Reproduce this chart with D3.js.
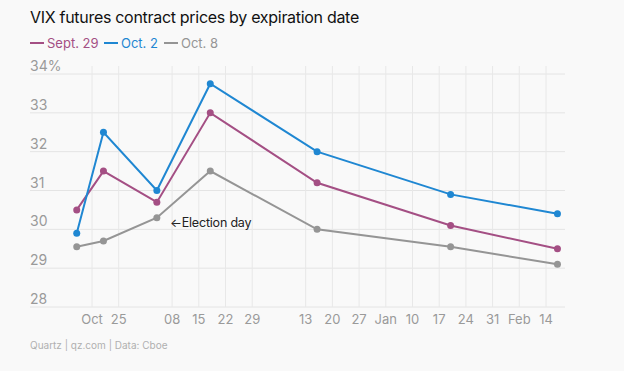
<!DOCTYPE html>
<html>
<head>
<meta charset="utf-8">
<script src="https://cdn.jsdelivr.net/npm/d3@7"></script>
<style>
  body { margin: 0; background: #f9f9f9; }
  svg { display: block; font-family: Inter, "Open Sans", sans-serif; }
</style>
</head>
<body>
<div id="chart"></div>
<script>
// expiratiedata
const expirations = ["2020-10-14", "2020-10-21", "2020-11-04", "2020-11-18", "2020-12-16", "2021-01-20", "2021-02-17"];
const sept29 = [30.5, 31.5, 30.7, 33.0, 31.2, 30.1, 29.5];
const oct2 = [29.9, 32.5, 31.0, 33.75, 32.0, 30.9, 30.4];
const oct8 = [29.55, 29.7, 30.3, 31.5, 30.0, 29.55, 29.1];

const seriesNames = ["Sept. 29", "Oct. 2", "Oct. 8"];
const seriesColors = ["#a44f84", "#1f87d2", "#959595"];

const tickDates = ["2020-10-18", "2020-10-25", "2020-11-08", "2020-11-15", "2020-11-22", "2020-11-29",
  "2020-12-13", "2020-12-20", "2020-12-27", "2021-01-03", "2021-01-10", "2021-01-17", "2021-01-24",
  "2021-01-31", "2021-02-07", "2021-02-14"];
const tickLabels = ["Oct", "25", "08", "15", "22", "29", "13", "20", "27", "Jan", "10", "17", "24", "31", "Feb", "14"];
const yTicks = [28, 29, 30, 31, 32, 33, 34];

const width = 624, height = 371;
const parse = d3.utcParse("%Y-%m-%d");

const svg = d3.select("#chart").append("svg")
  .attr("width", width)
  .attr("height", height);

// schalen
const x = d3.scaleUtc()
  .domain([parse("2020-10-18"), parse("2021-02-14")])
  .range([92, 546]);

const y = d3.scaleLinear()
  .domain([28, 34])
  .range([307, 74]);

// horizontale gridlijnen + labels
const yAxis = svg.append("g");
yAxis.selectAll("line").data(yTicks).enter().append("line")
  .attr("x1", 30).attr("x2", 565)
  .attr("y1", d => y(d)).attr("y2", d => y(d))
  .attr("stroke", "#e4e4e4").attr("stroke-width", 1);
yAxis.selectAll("text").data(yTicks).enter().append("text")
  .attr("x", 30).attr("y", d => y(d) - 3)
  .attr("fill", "#9a9a9a").attr("font-size", 14)
  .text(d => d === 34 ? d + "%" : d);

// verticale gridlijnen + labels
const xAxis = svg.append("g");
xAxis.selectAll("line").data(tickDates).enter().append("line")
  .attr("x1", d => x(parse(d))).attr("x2", d => x(parse(d)))
  .attr("y1", 66).attr("y2", 307)
  .attr("stroke", "#e8e8e8").attr("stroke-width", 1);
xAxis.selectAll("text").data(tickDates).enter().append("text")
  .attr("x", d => x(parse(d))).attr("y", 324)
  .attr("text-anchor", "middle")
  .attr("fill", "#9a9a9a").attr("font-size", 13)
  .text((d, i) => tickLabels[i]);

// lijnen en punten
const allSeries = [sept29, oct2, oct8];
const line = d3.line()
  .x((d, i) => x(parse(expirations[i])))
  .y(d => y(d));

allSeries.forEach((values, s) => {
  svg.append("path")
    .datum(values)
    .attr("d", line)
    .attr("fill", "none")
    .attr("stroke", seriesColors[s])
    .attr("stroke-width", 2);
  svg.selectAll(".dot" + s).data(values).enter().append("circle")
    .attr("cx", (d, i) => x(parse(expirations[i])))
    .attr("cy", d => y(d))
    .attr("r", 3.5)
    .attr("fill", seriesColors[s]);
});

// annotatie
svg.append("text")
  .attr("x", 170).attr("y", 227)
  .attr("fill", "#222").attr("font-size", 12.5)
  .attr("letter-spacing", -0.2)
  .text("\u2190Election day");

// titel
svg.append("text")
  .attr("x", 30).attr("y", 23)
  .attr("fill", "#111").attr("font-size", 16)
  .attr("letter-spacing", -0.3)
  .text("VIX futures contract prices by expiration date");

// legenda
const legendX = [30, 104, 164];
seriesNames.forEach((name, i) => {
  svg.append("line")
    .attr("x1", legendX[i]).attr("x2", legendX[i] + 14)
    .attr("y1", 43).attr("y2", 43)
    .attr("stroke", seriesColors[i]).attr("stroke-width", 2);
  svg.append("text")
    .attr("x", legendX[i] + 17).attr("y", 48)
    .attr("fill", seriesColors[i]).attr("font-size", 13)
    .text(name);
});

// bron
svg.append("text")
  .attr("x", 30).attr("y", 349)
  .attr("fill", "#b0b0b0").attr("font-size", 10)
  .text("Quartz | qz.com | Data: Cboe");
</script>
</body>
</html>
